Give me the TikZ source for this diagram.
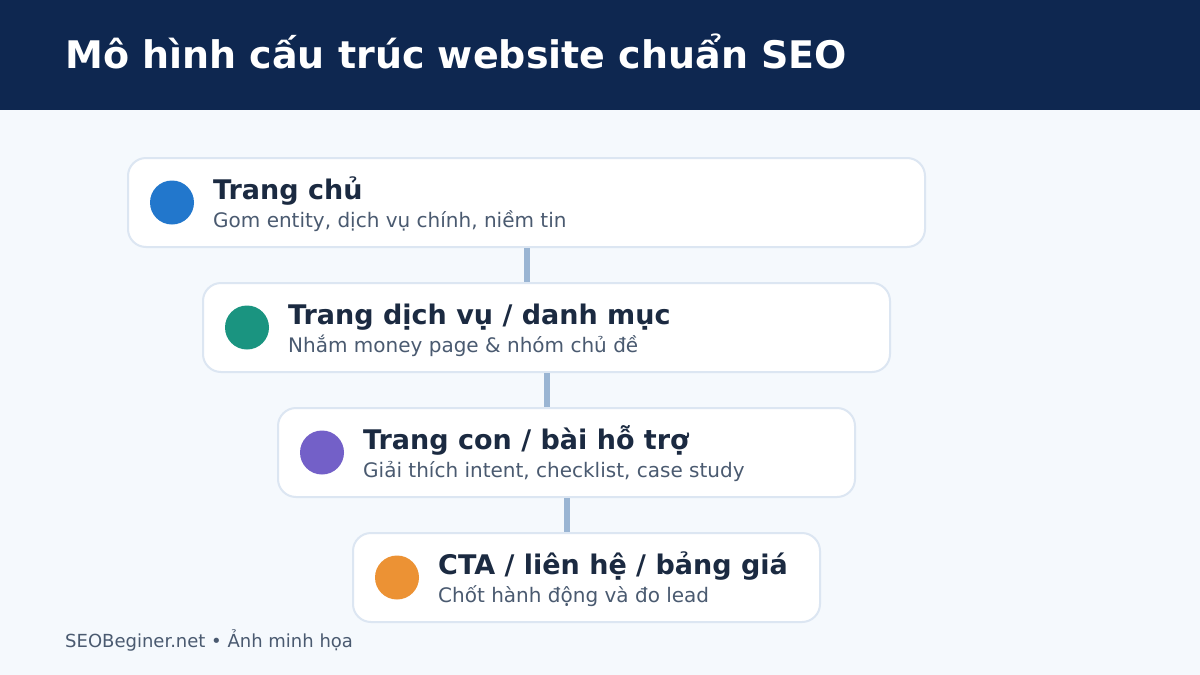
\documentclass[tikz,border=0pt]{standalone}
\usepackage{fontspec}
\setmainfont{DejaVu Sans}
\usetikzlibrary{positioning}

\definecolor{hdrnavy}{HTML}{0E2750}
\definecolor{pagebg}{HTML}{F5F9FD}
\definecolor{boxline}{HTML}{DCE6F2}
\definecolor{titleink}{HTML}{1B2A41}
\definecolor{subink}{HTML}{4A5A70}
\definecolor{linkline}{HTML}{9AB5D3}
\definecolor{cblue}{HTML}{2277CC}
\definecolor{cteal}{HTML}{1A9480}
\definecolor{cpurple}{HTML}{7360C8}
\definecolor{corange}{HTML}{EC9234}

\tikzset{
  levelbox/.style={draw=boxline, line width=2pt, fill=white, rounded corners=18pt,
    anchor=north west, minimum height=89pt, inner sep=0pt},
  dot/.style={circle, fill=#1, minimum size=44pt, inner sep=0pt},
  headtext/.style={anchor=base west, inner sep=0pt, text=titleink, font=\fontsize{27}{32}\selectfont\bfseries},
  subtext/.style={anchor=base west, inner sep=0pt, text=subink, font=\fontsize{20}{24}\selectfont},
  link/.style={draw=linkline, line width=6pt}
}

\begin{document}
\begin{tikzpicture}[x=1pt,y=-1pt]
    \useasboundingbox (0,0) rectangle (1200,675);
    \fill[pagebg] (0,0) rectangle (1200,675);
    \fill[hdrnavy] (0,0) rectangle (1200,110);
    \node[anchor=base west, inner sep=0pt, text=white, font=\fontsize{38}{44}\selectfont\bfseries] (title) at (65,68) {Mô hình cấu trúc website chuẩn SEO};

    % the four levels
    \foreach \i/\w/\head/\sub/\col in {
        1/797/{Trang chủ}/{Gom entity, dịch vụ chính, niềm tin}/cblue,
        2/687/{Trang dịch vụ / danh mục}/{Nhắm money page \& nhóm chủ đề}/cteal,
        3/577/{Trang con / bài hỗ trợ}/{Giải thích intent, checklist, case study}/cpurple,
        4/467/{CTA / liên hệ / bảng giá}/{Chốt hành động và đo lead}/corange} {
        \node[levelbox, minimum width=\w pt] (b\i) at (52+75*\i,32+125*\i) {};
        \node[dot=\col] (c\i) at ([xshift=45pt]b\i.west) {};
        \node[headtext] (h\i) at ([xshift=86pt,yshift=-42pt]b\i.north west) {\head};
        \node[subtext] (s\i) at ([xshift=86pt,yshift=-70pt]b\i.north west) {\sub};
    }

    % connectors between levels
    \foreach \i [count=\j from 2] in {1,2,3} {
        \draw[link] (b\i.south) -- (b\i.south |- b\j.north);
    }

    \node[anchor=base west, inner sep=0pt, text=subink, font=\fontsize{18}{21}\selectfont] (foot) at (65,647) {SEOBeginer.net • Ảnh minh họa};
\end{tikzpicture}
\end{document}
